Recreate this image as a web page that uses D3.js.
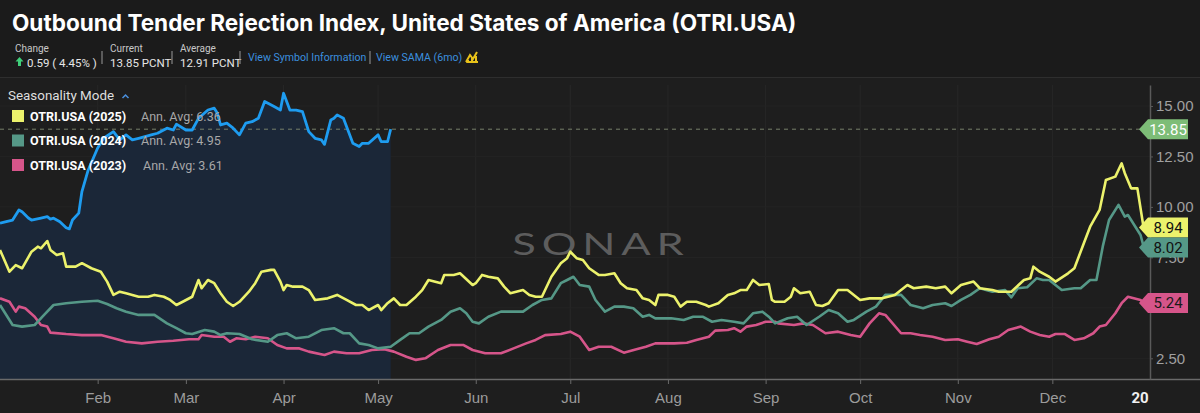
<!DOCTYPE html>
<html>
<head>
<meta charset="utf-8">
<script src="https://cdn.jsdelivr.net/npm/d3@7"></script>
<style>
  html, body { margin: 0; padding: 0; background: #1e1e1e; }
  svg { display: block; font-family: Roboto, "Noto Sans", sans-serif; }
</style>
</head>
<body>
<div class="otri-chart"></div>
<script>
/* [day of season, value] */
const otriCurrent = [[0,9.19],[2,9.27],[4,9.35],[6,9.85],[7,9.76],[9,9.45],[10,9.35],[13,9.45],[15,9.52],[16,9.40],[17,9.44],[19,9.27],[21,8.97],[22,8.91],[23,9.35],[25,9.69],[26,10.76],[28,11.83],[31,12.92],[33,13.42],[36,13.73],[38,13.32],[40,13.57],[42,13.32],[44,13.40],[48,13.57],[50,13.65],[53,13.90],[55,13.81],[56,14.10],[59,13.81],[61,13.81],[63,14.39],[66,14.80],[68,14.89],[69,14.64],[70,14.06],[72,14.15],[74,13.90],[76,13.57],[78,14.15],[80,14.22],[82,14.39],[84,15.22],[87,14.97],[89,14.80],[90,15.63],[92,14.80],[94,14.80],[96,14.72],[98,13.73],[100,13.40],[102,13.32],[103,13.10],[105,14.31],[106,14.39],[107,14.56],[109,14.39],[112,13.15],[114,12.99],[115,13.15],[117,13.15],[120,13.57],[121,13.23],[123,13.23],[124,13.85]];

const otri2025 = [[0,7.87],[3,6.79],[5,7.12],[7,6.96],[10,7.78],[12,8.03],[13,7.95],[15,8.31],[16,7.87],[18,7.62],[20,7.70],[21,7.04],[24,7.04],[26,7.21],[29,6.96],[32,6.79],[34,6.30],[36,5.64],[38,5.80],[40,5.72],[42,5.64],[44,5.55],[47,5.55],[49,5.64],[52,5.55],[54,5.39],[56,5.14],[58,5.30],[61,5.55],[63,6.38],[64,5.97],[66,6.38],[68,6.22],[70,5.72],[72,5.30],[74,5.09],[76,5.30],[79,5.80],[81,6.22],[83,6.79],[86,6.88],[87,6.88],[89,6.30],[90,5.88],[91,6.13],[93,6.05],[96,6.05],[98,5.88],[100,5.39],[104,5.47],[107,5.64],[110,5.39],[113,5.14],[115,5.14],[117,4.89],[120,5.14],[121,4.89],[123,5.23],[125,5.47],[127,5.14],[129,5.14],[132,5.55],[134,5.88],[136,6.38],[140,6.22],[141,6.63],[144,6.63],[146,6.71],[150,6.13],[151,6.22],[153,6.63],[155,6.54],[158,6.46],[160,6.05],[162,5.72],[166,5.88],[168,5.64],[170,5.55],[172,5.55],[175,6.54],[178,7.21],[180,7.46],[181,7.78],[183,7.46],[185,7.37],[187,6.96],[190,6.63],[192,6.63],[195,6.71],[197,6.22],[199,5.97],[202,5.88],[204,5.47],[206,5.39],[208,5.14],[209,5.64],[212,5.64],[214,5.55],[216,5.06],[218,5.30],[221,5.30],[224,5.14],[225,5.06],[228,5.23],[231,5.64],[233,5.72],[235,5.88],[237,5.88],[239,6.38],[241,6.13],[244,6.18],[245,5.39],[246,5.30],[249,5.30],[251,5.55],[252,5.97],[254,5.72],[257,5.80],[259,5.14],[261,5.09],[263,5.23],[266,5.88],[269,5.88],[273,5.39],[276,5.47],[280,5.47],[284,5.64],[288,6.13],[290,5.97],[294,6.05],[297,5.97],[300,6.05],[302,5.72],[305,6.13],[309,6.30],[311,5.97],[315,5.88],[317,5.80],[321,5.80],[325,6.38],[327,6.46],[328,7.04],[330,6.79],[333,6.54],[335,6.30],[339,6.71],[341,6.96],[344,8.20],[346,9.02],[349,9.85],[351,11.33],[354,11.50],[356,12.16],[357,11.67],[359,10.92],[361,10.92],[363,8.94]];

const otri2024 = [[0,5.14],[4,4.15],[7,4.07],[11,4.15],[14,4.65],[17,5.14],[21,5.23],[26,5.30],[31,5.35],[34,5.19],[37,4.98],[40,4.81],[44,4.65],[49,4.65],[53,4.23],[56,3.99],[59,3.74],[61,3.70],[65,3.90],[68,3.82],[70,3.65],[72,3.74],[76,3.70],[80,3.44],[85,3.32],[88,3.65],[91,3.74],[94,3.49],[98,3.57],[102,3.90],[106,3.99],[109,3.74],[111,3.74],[114,3.24],[117,3.16],[120,2.99],[124,3.07],[127,3.41],[130,3.74],[133,3.74],[136,4.07],[140,4.40],[143,4.81],[146,4.98],[148,4.73],[150,4.31],[152,4.23],[155,4.56],[159,4.81],[163,4.81],[166,4.81],[169,5.14],[172,5.39],[175,5.47],[178,6.22],[180,6.38],[182,6.54],[184,6.13],[187,6.05],[189,5.39],[192,4.81],[195,5.06],[198,5.06],[201,4.98],[204,4.56],[206,4.65],[208,4.48],[213,4.48],[217,4.40],[220,4.56],[223,4.56],[226,4.31],[229,4.40],[233,4.31],[236,4.23],[239,4.73],[242,4.81],[244,4.56],[246,4.23],[250,4.48],[253,4.56],[256,4.15],[260,4.56],[263,4.89],[266,4.73],[269,4.31],[271,4.40],[275,4.81],[278,5.06],[281,5.64],[286,5.64],[289,5.14],[293,4.98],[296,5.14],[300,5.23],[302,5.09],[305,5.39],[308,5.64],[311,5.97],[315,5.80],[319,5.88],[321,5.52],[323,5.97],[326,6.02],[329,6.46],[331,6.38],[333,6.38],[337,5.88],[341,5.97],[343,5.97],[346,6.38],[348,6.38],[350,8.03],[352,9.35],[355,10.10],[357,9.52],[358,9.60],[362,8.61],[363,8.02]];

const otri2023 = [[0,5.47],[3,5.30],[5,4.81],[6,5.06],[8,4.98],[11,4.56],[13,4.15],[15,4.07],[16,3.77],[21,3.70],[26,3.65],[32,3.65],[36,3.49],[40,3.32],[45,3.24],[50,3.32],[55,3.37],[60,3.44],[63,3.44],[64,3.65],[68,3.57],[71,3.57],[73,3.32],[75,3.49],[78,3.44],[81,3.57],[85,3.49],[88,3.16],[91,2.99],[95,2.99],[98,2.83],[103,2.66],[106,2.83],[110,2.75],[114,2.75],[118,2.91],[122,2.95],[125,2.83],[129,2.58],[132,2.42],[135,2.50],[139,2.91],[143,3.16],[147,3.16],[150,2.91],[154,2.75],[159,2.75],[163,2.99],[167,3.24],[170,3.41],[173,3.65],[178,3.70],[181,3.82],[184,3.57],[187,2.91],[190,3.07],[194,3.07],[198,2.78],[202,2.95],[205,3.07],[208,3.24],[214,3.24],[218,3.27],[221,3.41],[225,3.57],[227,3.87],[231,3.90],[233,3.99],[235,3.82],[237,4.07],[240,4.15],[243,4.31],[246,4.31],[247,4.23],[252,4.15],[255,4.23],[258,4.15],[262,3.74],[266,3.82],[270,3.65],[273,3.57],[276,4.23],[279,4.73],[281,4.65],[286,3.74],[289,3.74],[292,3.65],[296,3.57],[300,3.41],[304,3.44],[307,3.32],[310,3.21],[314,3.44],[317,3.57],[320,3.90],[324,4.07],[327,3.82],[330,3.65],[333,3.57],[335,3.70],[338,3.70],[341,3.41],[344,3.49],[347,3.74],[349,4.07],[351,4.15],[354,4.73],[356,5.23],[358,5.55],[362,5.39],[363,5.24]];

const legendNames = ["OTRI.USA (2025)", "OTRI.USA (2024)", "OTRI.USA (2023)"];
const legendAvgs = ["6.36", "4.95", "3.61"];
const monthTicks = ["Feb","Mar","Apr","May","Jun","Jul","Aug","Sep","Oct","Nov","Dec"];
const yTicks = [2.5, 5, 7.5, 10, 12.5, 15];
const currentValue = 13.85;

const width = 1200;
const height = 413;
const plotRight = 1150;
const plotTop = 85;
const plotBottom = 379;

const colorCurrent = "#1e9cf0";
const colors = ["#ecf26c", "#559887", "#d6558a"];

const svg = d3.select(".otri-chart").append("svg")
    .attr("width", width)
    .attr("height", height);

/* background + header */
svg.append("rect").attr("width", width).attr("height", height).attr("fill", "#1e1e1e");
svg.append("rect").attr("width", width).attr("height", 77).attr("fill", "#1b1b1b");
svg.append("line").attr("x1", 0).attr("x2", width).attr("y1", 77.5).attr("y2", 77.5)
    .attr("stroke", "#2e2e2e");

const title = svg.append("text")
    .attr("x", 12).attr("y", 31)
    .attr("fill", "#ffffff")
    .attr("font-family", "Inter, sans-serif")
    .attr("font-weight", 700)
    .attr("font-size", 22)
    .text("Outbound Tender Rejection Index, United States of America (OTRI.USA)");
// fit the title to its width in the reference
const tw = title.node().getComputedTextLength();
title.attr("font-size", 22 * 785 / tw);

const head = svg.append("g").attr("font-size", 11.5);
const stats = [
    {x: 15, label: "Change", value: "0.59 ( 4.45% )", dx: 12},
    {x: 110, label: "Current", value: "13.85 PCNT", dx: 0},
    {x: 180, label: "Average", value: "12.91 PCNT", dx: 0},
];
stats.forEach(s => {
    head.append("text").attr("x", s.x).attr("y", 52).attr("font-size", 10)
        .attr("fill", "#c8c8c8").text(s.label);
    head.append("text").attr("x", s.x + s.dx).attr("y", 67)
        .attr("fill", "#e6e6e6").text(s.value);
});
// green up arrow
head.append("path")
    .attr("d", "M19.5,57 L23.5,61.5 L21,61.5 L21,66 L18,66 L18,61.5 L15.5,61.5 Z")
    .attr("fill", "#3fcf7a");
[102, 172, 240, 370].forEach(x => {
    head.append("line").attr("x1", x).attr("x2", x).attr("y1", 51).attr("y2", 64)
        .attr("stroke", "#9a9a9a").attr("stroke-width", 1);
});
head.append("text").attr("x", 248).attr("y", 61).attr("fill", "#3b8fdf").attr("font-size", 10.6)
    .text("View Symbol Information");
head.append("text").attr("x", 376).attr("y", 61).attr("fill", "#3b8fdf").attr("font-size", 10.6)
    .text("View SAMA (6mo)");
// small SAMA icon
head.append("path")
    .attr("d", "M466,62 L470,55 L473,59 L477,52 M466,62 L478,62 M468,60 L468,63 M472,58 L472,63 M476,56 L476,63")
    .attr("fill", "none").attr("stroke", "#e8c21a").attr("stroke-width", 2);

/* Scale */
const parseDay = d => new Date(2025, 0, 1 + d);
const xScale = d3.scaleTime()
    .domain([new Date(2025, 0, 1), new Date(2026, 0, 1)])
    .range([0, plotRight]);
const yScale = d3.scaleLinear()
    .domain([1.474, 16.04])
    .range([plotBottom, plotTop]);

/* grid */
const monthDates = monthTicks.map((m, i) => new Date(2025, i + 1, 1));
svg.append("g").selectAll("line")
    .data(monthDates).enter()
    .append("line")
    .attr("x1", d => xScale(d)).attr("x2", d => xScale(d))
    .attr("y1", plotTop).attr("y2", plotBottom)
    .attr("stroke", "#272727");
svg.append("g").selectAll("line")
    .data(yTicks).enter()
    .append("line")
    .attr("x1", 0).attr("x2", plotRight)
    .attr("y1", d => yScale(d)).attr("y2", d => yScale(d))
    .attr("stroke", "#242424");

/* current year shaded area */
const area = d3.area()
    .x(d => xScale(parseDay(d[0])))
    .y0(plotBottom)
    .y1(d => yScale(d[1]));
svg.append("path")
    .datum(otriCurrent)
    .attr("d", area)
    .attr("fill", "#1b2738");

/* SONAR watermark */
svg.append("text")
    .attr("transform", "translate(601, 255) scale(1.45, 1)")
    .attr("text-anchor", "middle")
    .attr("font-family", "Lato, sans-serif")
    .attr("font-size", 30)
    .attr("font-weight", 400)
    .attr("letter-spacing", 4)
    .attr("fill", "#5d5d5d")
    .text("SONAR");

/* current value dashed line */
svg.append("line")
    .attr("x1", 0).attr("x2", plotRight)
    .attr("y1", yScale(currentValue)).attr("y2", yScale(currentValue))
    .attr("stroke", "#77806a").attr("stroke-width", 1)
    .attr("stroke-dasharray", "4,4");

/* lines */
const line = d3.line()
    .x(d => xScale(parseDay(d[0])))
    .y(d => yScale(d[1]));

const seasons = [otri2023, otri2024, otri2025];
const seasonColors = [colors[2], colors[1], colors[0]];
svg.append("g").selectAll("path")
    .data(seasons).enter()
    .append("path")
    .attr("d", d => line(d))
    .attr("fill", "none")
    .attr("stroke", (d, i) => seasonColors[i])
    .attr("stroke-width", 2.6)
    .attr("stroke-linejoin", "round");

svg.append("path")
    .datum(otriCurrent)
    .attr("d", line)
    .attr("fill", "none")
    .attr("stroke", colorCurrent)
    .attr("stroke-width", 2.8)
    .attr("stroke-linejoin", "round");

/* Axis */
const xAxis = d3.axisBottom(xScale)
    .tickValues(monthDates)
    .tickFormat(d3.timeFormat("%b"))
    .tickSize(5)
    .tickSizeOuter(0);
const gx = svg.append("g")
    .attr("transform", `translate(0, ${plotBottom})`)
    .call(xAxis);
gx.select(".domain").attr("d", `M0,0.5H${width}`).attr("stroke", "#6a6a6a").attr("stroke-width", 1.5);
gx.selectAll(".tick line").attr("stroke", "#6a6a6a");
gx.selectAll(".tick text").attr("fill", "#9c9c9c").attr("font-size", 15).attr("dy", "1.05em");
svg.append("text")
    .attr("x", 1140).attr("y", 403)
    .attr("text-anchor", "middle")
    .attr("fill", "#f0f0f0").attr("font-weight", 700).attr("font-size", 15)
    .text("20");

/* last value badges */
const badges = [
    {value: currentValue, bg: "#7dbd77", fg: "#ffffff"},
    {value: otri2025[otri2025.length - 1][1], bg: colors[0], fg: "#111111"},
    {value: otri2024[otri2024.length - 1][1], bg: colors[1], fg: "#111111"},
    {value: otri2023[otri2023.length - 1][1], bg: colors[2], fg: "#1a1a1a"},
];
badges.forEach(b => { b.cy = yScale(b.value); });
// push apart overlapping badges
for (let i = 1; i < badges.length; i++) {
    const gap = badges[i].cy - badges[i - 1].cy;
    if (gap < 20) {
        badges[i - 1].cy -= (20 - gap) / 2;
        badges[i].cy += (20 - gap) / 2;
    }
}

// tick labels fully covered by a badge are not shown
const yAxis = d3.axisRight(yScale)
    .tickValues(yTicks)
    .tickFormat(v => badges.some(b => Math.abs(b.cy - yScale(v)) < 7) ? "" : d3.format(".2f")(v))
    .tickSize(3)
    .tickSizeOuter(0);
const gy = svg.append("g")
    .attr("transform", `translate(${plotRight}, 0)`)
    .call(yAxis);
gy.select(".domain").attr("stroke", "#5a5a5a").attr("stroke-width", 1.5);
gy.selectAll(".tick line").attr("stroke", "#5a5a5a");
gy.selectAll(".tick text").attr("fill", "#a0a0a0").attr("font-size", 15).attr("x", 6);

const badge = svg.append("g").selectAll("g")
    .data(badges).enter()
    .append("g")
    .attr("transform", d => `translate(1139, ${d.cy})`);
badge.append("path")
    .attr("d", "M0,0 L9,-10 L49,-10 L49,10 L9,10 Z")
    .attr("fill", d => d.bg);
badge.append("text")
    .attr("x", 29).attr("y", 5.5)
    .attr("text-anchor", "middle")
    .attr("font-size", 15)
    .attr("fill", d => d.fg)
    .text(d => d3.format(".2f")(d.value));

/* legend */
const legend = svg.append("g");
legend.append("text")
    .attr("x", 8).attr("y", 100)
    .attr("fill", "#dedede").attr("font-size", 13.4)
    .text("Seasonality Mode");
legend.append("path")
    .attr("d", "M122.5,98 L125.5,95 L128.5,98")
    .attr("fill", "none").attr("stroke", "#4a8fdc").attr("stroke-width", 1.5);

const items = legend.selectAll(".item")
    .data(legendNames).enter()
    .append("g")
    .attr("class", "item")
    .attr("transform", (d, i) => `translate(0, ${116 + i * 24.5})`);
items.append("rect")
    .attr("x", 12).attr("y", -6).attr("width", 12).attr("height", 12)
    .attr("fill", (d, i) => colors[i]);
items.append("text")
    .attr("x", 30).attr("y", 4.5)
    .attr("fill", "#ffffff").attr("font-weight", 700).attr("font-size", 12.5)
    .text(d => d);
items.append("text")
    .attr("x", (d, i) => i === 2 ? 143 : 141).attr("y", 4.5)
    .attr("fill", "#a8a8a8").attr("font-size", 12.5)
    .text((d, i) => "Ann. Avg: " + legendAvgs[i]);
</script>
</body>
</html>
